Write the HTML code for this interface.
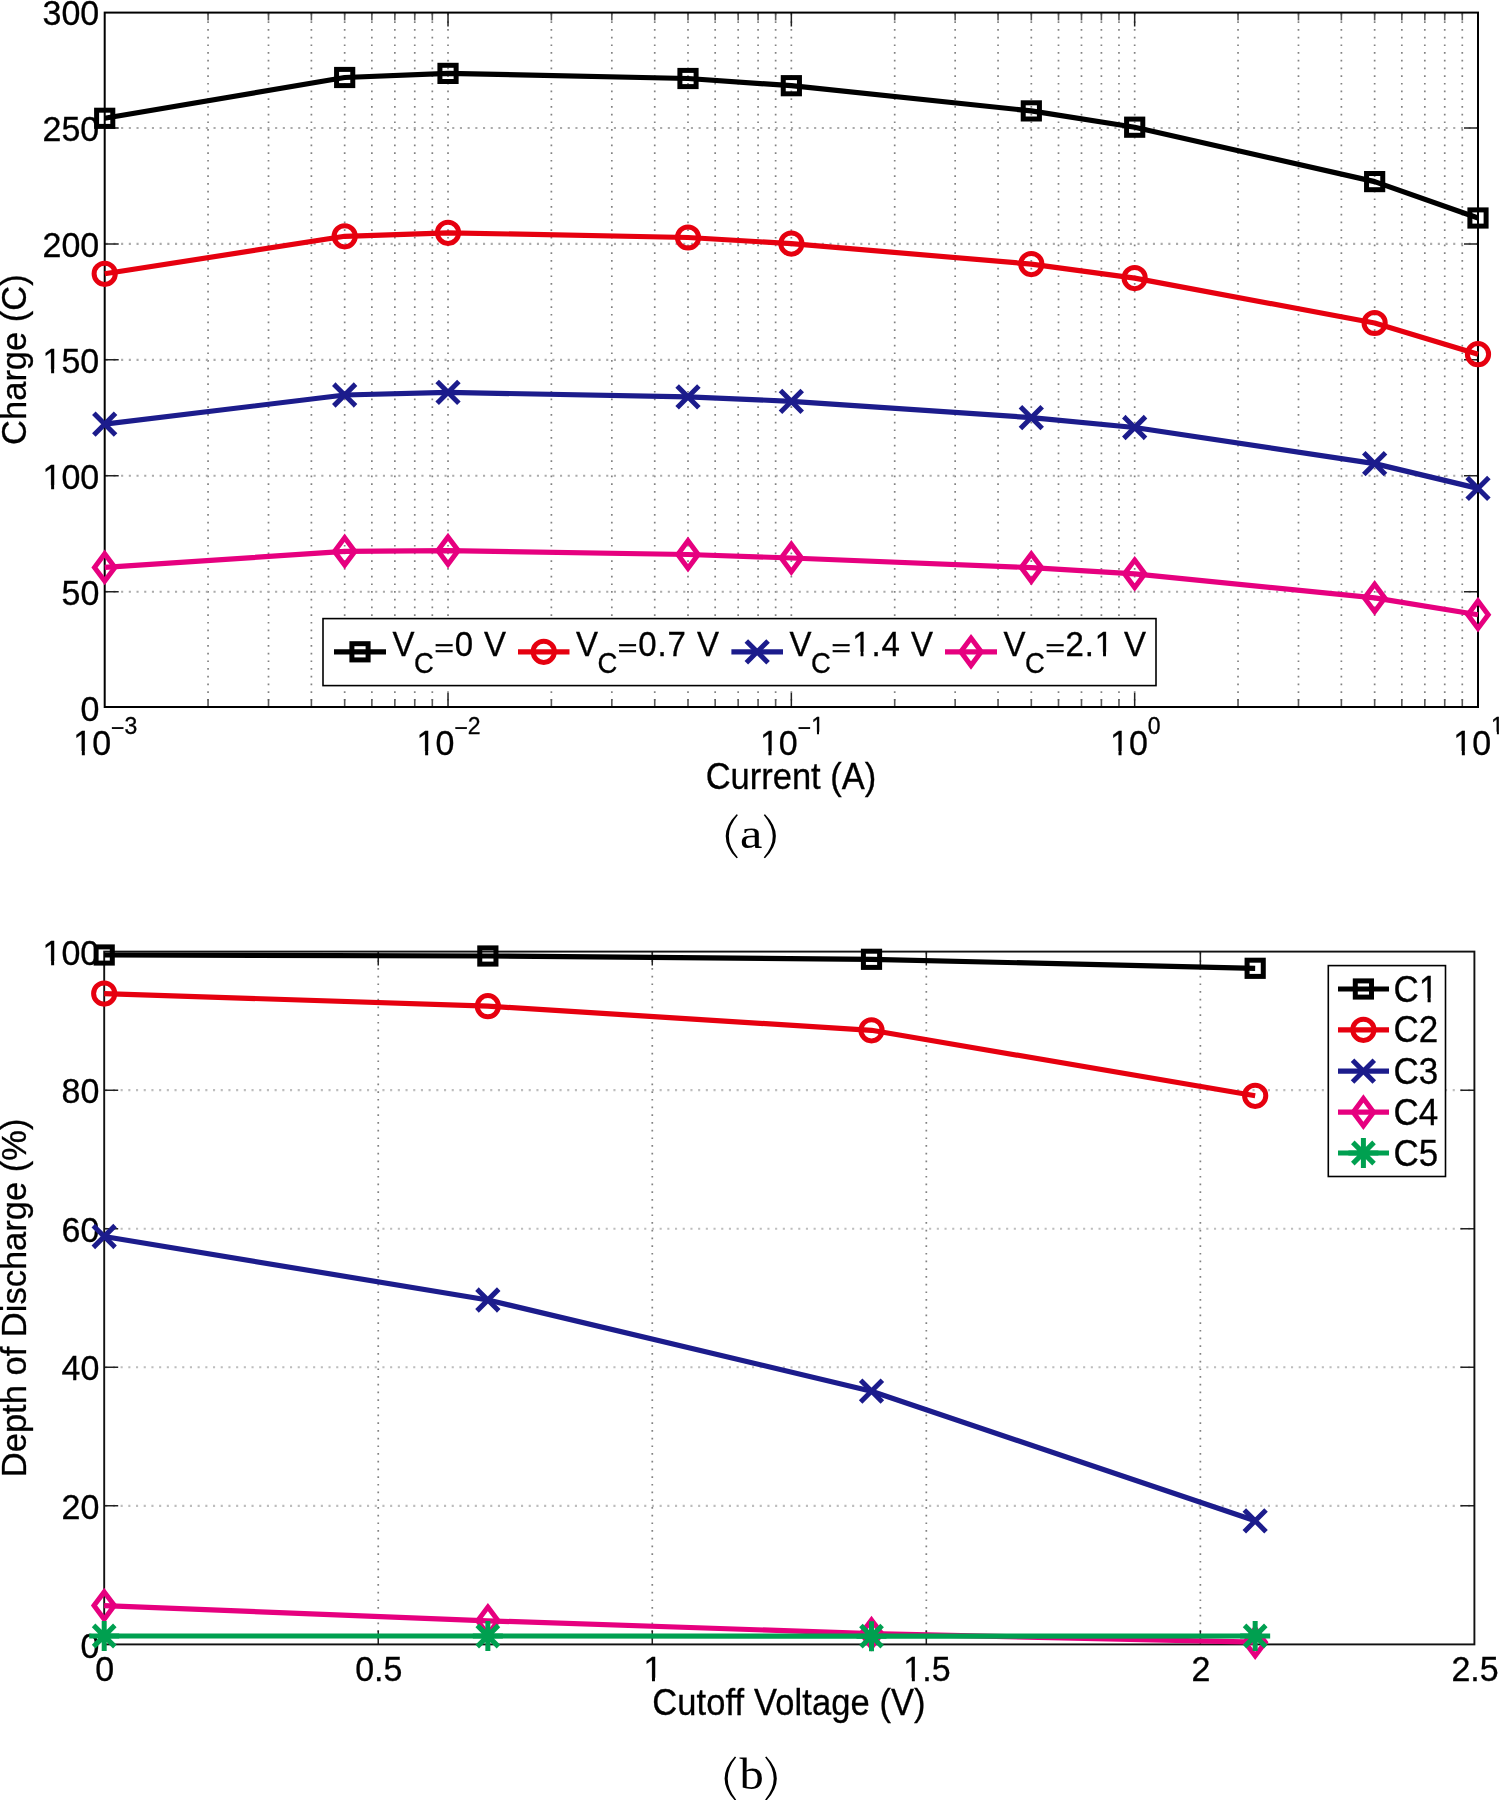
<!DOCTYPE html><html><head><meta charset="utf-8"><style>
html,body{margin:0;padding:0;background:#fff;overflow:hidden;width:1500px;height:1800px;}svg{display:block;will-change:transform;}
.g{stroke:#828282;stroke-width:1.7;stroke-dasharray:1.7 6.0;fill:none;}
.gh{stroke:#ababab;stroke-width:2.1;stroke-dasharray:2.1 5.6;fill:none;}
.gl{stroke:#bdbdbd;stroke-width:2.1;stroke-dasharray:2.1 5.6;fill:none;}
.t{stroke:#222;stroke-width:1.5;fill:none;}
.tm{stroke:#5a5a5a;stroke-width:1.6;fill:none;}
text{font-family:"Liberation Sans",sans-serif;fill:#000;stroke:#000;stroke-width:0.3px;}
.s{font-family:"Liberation Serif",serif;stroke-width:0;}
</style></head><body>
<svg width="1500" height="1800" viewBox="0 0 1500 1800">
<rect width="1500" height="1800" fill="#fff"/>
<g><line x1="208.05" y1="13.6" x2="208.05" y2="706" class="g"/><line x1="268.51" y1="13.6" x2="268.51" y2="706" class="g"/><line x1="311.4" y1="13.6" x2="311.4" y2="706" class="g"/><line x1="344.67" y1="13.6" x2="344.67" y2="706" class="g"/><line x1="371.86" y1="13.6" x2="371.86" y2="706" class="g"/><line x1="394.84" y1="13.6" x2="394.84" y2="706" class="g"/><line x1="414.75" y1="13.6" x2="414.75" y2="706" class="g"/><line x1="432.32" y1="13.6" x2="432.32" y2="706" class="g"/><line x1="448.02" y1="13.6" x2="448.02" y2="706" class="g"/><line x1="551.38" y1="13.6" x2="551.38" y2="706" class="g"/><line x1="611.83" y1="13.6" x2="611.83" y2="706" class="g"/><line x1="654.73" y1="13.6" x2="654.73" y2="706" class="g"/><line x1="688" y1="13.6" x2="688" y2="706" class="g"/><line x1="715.18" y1="13.6" x2="715.18" y2="706" class="g"/><line x1="738.17" y1="13.6" x2="738.17" y2="706" class="g"/><line x1="758.08" y1="13.6" x2="758.08" y2="706" class="g"/><line x1="775.64" y1="13.6" x2="775.64" y2="706" class="g"/><line x1="791.35" y1="13.6" x2="791.35" y2="706" class="g"/><line x1="894.7" y1="13.6" x2="894.7" y2="706" class="g"/><line x1="955.16" y1="13.6" x2="955.16" y2="706" class="g"/><line x1="998.05" y1="13.6" x2="998.05" y2="706" class="g"/><line x1="1031.32" y1="13.6" x2="1031.32" y2="706" class="g"/><line x1="1058.51" y1="13.6" x2="1058.51" y2="706" class="g"/><line x1="1081.49" y1="13.6" x2="1081.49" y2="706" class="g"/><line x1="1101.4" y1="13.6" x2="1101.4" y2="706" class="g"/><line x1="1118.97" y1="13.6" x2="1118.97" y2="706" class="g"/><line x1="1134.67" y1="13.6" x2="1134.67" y2="706" class="g"/><line x1="1238.03" y1="13.6" x2="1238.03" y2="706" class="g"/><line x1="1298.48" y1="13.6" x2="1298.48" y2="706" class="g"/><line x1="1341.38" y1="13.6" x2="1341.38" y2="706" class="g"/><line x1="1374.65" y1="13.6" x2="1374.65" y2="706" class="g"/><line x1="1401.83" y1="13.6" x2="1401.83" y2="706" class="g"/><line x1="1424.82" y1="13.6" x2="1424.82" y2="706" class="g"/><line x1="1444.73" y1="13.6" x2="1444.73" y2="706" class="g"/><line x1="1462.29" y1="13.6" x2="1462.29" y2="706" class="g"/><line x1="105.7" y1="591.75" x2="1477" y2="591.75" class="gh"/><line x1="105.7" y1="475.8" x2="1477" y2="475.8" class="gh"/><line x1="105.7" y1="359.85" x2="1477" y2="359.85" class="gh"/><line x1="105.7" y1="243.9" x2="1477" y2="243.9" class="gh"/><line x1="105.7" y1="127.95" x2="1477" y2="127.95" class="gh"/></g>
<path class="t" d="M104.7 591.75h14M1478 591.75h-14M104.7 475.8h14M1478 475.8h-14M104.7 359.85h14M1478 359.85h-14M104.7 243.9h14M1478 243.9h-14M104.7 127.95h14M1478 127.95h-14M448.02 707v-14M448.02 12.6v14M791.35 707v-14M791.35 12.6v14M1134.67 707v-14M1134.67 12.6v14"/>
<path class="tm" d="M208.05 707v-8M208.05 12.6v8M268.51 707v-8M268.51 12.6v8M311.4 707v-8M311.4 12.6v8M344.67 707v-8M344.67 12.6v8M371.86 707v-8M371.86 12.6v8M394.84 707v-8M394.84 12.6v8M414.75 707v-8M414.75 12.6v8M432.32 707v-8M432.32 12.6v8M551.38 707v-8M551.38 12.6v8M611.83 707v-8M611.83 12.6v8M654.73 707v-8M654.73 12.6v8M688 707v-8M688 12.6v8M715.18 707v-8M715.18 12.6v8M738.17 707v-8M738.17 12.6v8M758.08 707v-8M758.08 12.6v8M775.64 707v-8M775.64 12.6v8M894.7 707v-8M894.7 12.6v8M955.16 707v-8M955.16 12.6v8M998.05 707v-8M998.05 12.6v8M1031.32 707v-8M1031.32 12.6v8M1058.51 707v-8M1058.51 12.6v8M1081.49 707v-8M1081.49 12.6v8M1101.4 707v-8M1101.4 12.6v8M1118.97 707v-8M1118.97 12.6v8M1238.03 707v-8M1238.03 12.6v8M1298.48 707v-8M1298.48 12.6v8M1341.38 707v-8M1341.38 12.6v8M1374.65 707v-8M1374.65 12.6v8M1401.83 707v-8M1401.83 12.6v8M1424.82 707v-8M1424.82 12.6v8M1444.73 707v-8M1444.73 12.6v8M1462.29 707v-8M1462.29 12.6v8"/>
<rect x="104.7" y="12.6" width="1373.3" height="694.4" fill="none" stroke="#000" stroke-width="2"/>
<g transform="translate(99.3 720.9) scale(1 1.04)"><text x="-18.91" font-size="34">0</text></g>
<g transform="translate(99.3 604.95) scale(1 1.04)"><text x="-37.82" font-size="34">50</text></g>
<g transform="translate(99.3 489) scale(1 1.04)"><text x="-56.73" font-size="34">100</text><path fill="#fff" d="M-55.81 -3.57H-48.18V2.2H-55.81ZM-45.17 -3.57H-37.8V2.2H-45.17Z"/></g>
<g transform="translate(99.3 373.05) scale(1 1.04)"><text x="-56.73" font-size="34">150</text><path fill="#fff" d="M-55.81 -3.57H-48.18V2.2H-55.81ZM-45.17 -3.57H-37.8V2.2H-45.17Z"/></g>
<g transform="translate(99.3 257.1) scale(1 1.04)"><text x="-56.73" font-size="34">200</text></g>
<g transform="translate(99.3 141.15) scale(1 1.04)"><text x="-56.73" font-size="34">250</text></g>
<g transform="translate(99.3 25.2) scale(1 1.04)"><text x="-56.73" font-size="34">300</text></g>
<g transform="translate(105.3 754.6) scale(1 1.04)"><text x="-32.02" font-size="34">10<tspan font-size="23" dy="-17.55">−</tspan><tspan font-size="23" dy="-2.05">3</tspan></text><path fill="#fff" d="M-31.11 -3.57H-23.47V2.2H-31.11ZM-20.47 -3.57H-13.09V2.2H-20.47Z"/></g>
<g transform="translate(448.62 754.6) scale(1 1.04)"><text x="-32.02" font-size="34">10<tspan font-size="23" dy="-17.55">−</tspan><tspan font-size="23" dy="-2.05">2</tspan></text><path fill="#fff" d="M-31.11 -3.57H-23.47V2.2H-31.11ZM-20.47 -3.57H-13.09V2.2H-20.47Z"/></g>
<g transform="translate(791.95 754.6) scale(1 1.04)"><text x="-32.02" font-size="34">10<tspan font-size="23" dy="-17.55">−</tspan><tspan font-size="23" dy="-2.05">1</tspan></text><path fill="#fff" d="M-31.11 -3.57H-23.47V2.2H-31.11ZM-20.47 -3.57H-13.09V2.2H-20.47ZM19.85 -22.01H25.01V-17.4H19.85ZM27.05 -22.01H32.03V-17.4H27.05Z"/></g>
<g transform="translate(1135.27 754.6) scale(1 1.04)"><text x="-25.3" font-size="34">10<tspan font-size="23" dy="-19.6">0</tspan></text><path fill="#fff" d="M-24.39 -3.57H-16.76V2.2H-24.39ZM-13.75 -3.57H-6.38V2.2H-13.75Z"/></g>
<g transform="translate(1478.6 754.6) scale(1 1.04)"><text x="-25.3" font-size="34">10<tspan font-size="23" dy="-19.6">1</tspan></text><path fill="#fff" d="M-24.39 -3.57H-16.76V2.2H-24.39ZM-13.75 -3.57H-6.38V2.2H-13.75ZM13.13 -22.01H18.3V-17.4H13.13ZM20.33 -22.01H25.32V-17.4H20.33Z"/></g>
<g transform="translate(791 788.9) scale(1 1.07)"><text x="-85.31" font-size="34.5">Current (A)</text></g>
<g transform="translate(25.9 359.6) rotate(-90)"><text x="-85.32" font-size="34.5">Charge (C)</text></g>
<path d="M736.6 814.2Q714.8 836.25 736.6 858.3L737.9 857.5Q719.7 836.25 737.9 815Z" fill="#000"/>
<path d="M765 814.2Q786.8 836.25 765 858.3L763.7 857.5Q781.9 836.25 763.7 815Z" fill="#000"/>
<text class="s" transform="translate(740 847.6) scale(1.2 1)" font-size="42">a</text>
<polyline points="104.7,118.3 344.67,77.5 448.02,73.4 688,78.5 791.35,85.7 1031.32,110.9 1134.67,127.2 1374.65,181.6 1478,218" fill="none" stroke="#000000" stroke-width="5.2" stroke-linejoin="round" stroke-linecap="butt"/>
<rect x="96.6" y="110.2" width="16.2" height="16.2" fill="none" stroke="#000000" stroke-width="5.0"/><rect x="336.57" y="69.4" width="16.2" height="16.2" fill="none" stroke="#000000" stroke-width="5.0"/><rect x="439.92" y="65.3" width="16.2" height="16.2" fill="none" stroke="#000000" stroke-width="5.0"/><rect x="679.9" y="70.4" width="16.2" height="16.2" fill="none" stroke="#000000" stroke-width="5.0"/><rect x="783.25" y="77.6" width="16.2" height="16.2" fill="none" stroke="#000000" stroke-width="5.0"/><rect x="1023.22" y="102.8" width="16.2" height="16.2" fill="none" stroke="#000000" stroke-width="5.0"/><rect x="1126.58" y="119.1" width="16.2" height="16.2" fill="none" stroke="#000000" stroke-width="5.0"/><rect x="1366.55" y="173.5" width="16.2" height="16.2" fill="none" stroke="#000000" stroke-width="5.0"/><rect x="1469.9" y="209.9" width="16.2" height="16.2" fill="none" stroke="#000000" stroke-width="5.0"/>
<polyline points="104.7,273.8 344.67,236.3 448.02,232.8 688,237.5 791.35,243.6 1031.32,264.1 1134.67,278.1 1374.65,323 1478,354.2" fill="none" stroke="#e6000f" stroke-width="5.2" stroke-linejoin="round" stroke-linecap="butt"/>
<circle cx="104.7" cy="273.8" r="10.6" fill="none" stroke="#e6000f" stroke-width="5.0"/><circle cx="344.67" cy="236.3" r="10.6" fill="none" stroke="#e6000f" stroke-width="5.0"/><circle cx="448.02" cy="232.8" r="10.6" fill="none" stroke="#e6000f" stroke-width="5.0"/><circle cx="688" cy="237.5" r="10.6" fill="none" stroke="#e6000f" stroke-width="5.0"/><circle cx="791.35" cy="243.6" r="10.6" fill="none" stroke="#e6000f" stroke-width="5.0"/><circle cx="1031.32" cy="264.1" r="10.6" fill="none" stroke="#e6000f" stroke-width="5.0"/><circle cx="1134.67" cy="278.1" r="10.6" fill="none" stroke="#e6000f" stroke-width="5.0"/><circle cx="1374.65" cy="323" r="10.6" fill="none" stroke="#e6000f" stroke-width="5.0"/><circle cx="1478" cy="354.2" r="10.6" fill="none" stroke="#e6000f" stroke-width="5.0"/>
<polyline points="104.7,424.1 344.67,395 448.02,392.4 688,396.8 791.35,401.3 1031.32,417.6 1134.67,427.5 1374.65,463.6 1478,488.4" fill="none" stroke="#1c1c8c" stroke-width="5.2" stroke-linejoin="round" stroke-linecap="butt"/>
<path d="M95.6 415L113.8 433.2M95.6 433.2L113.8 415" stroke="#1c1c8c" stroke-width="5.0" stroke-linecap="square" fill="none"/><path d="M335.57 385.9L353.77 404.1M335.57 404.1L353.77 385.9" stroke="#1c1c8c" stroke-width="5.0" stroke-linecap="square" fill="none"/><path d="M438.92 383.3L457.12 401.5M438.92 401.5L457.12 383.3" stroke="#1c1c8c" stroke-width="5.0" stroke-linecap="square" fill="none"/><path d="M678.9 387.7L697.1 405.9M678.9 405.9L697.1 387.7" stroke="#1c1c8c" stroke-width="5.0" stroke-linecap="square" fill="none"/><path d="M782.25 392.2L800.45 410.4M782.25 410.4L800.45 392.2" stroke="#1c1c8c" stroke-width="5.0" stroke-linecap="square" fill="none"/><path d="M1022.22 408.5L1040.42 426.7M1022.22 426.7L1040.42 408.5" stroke="#1c1c8c" stroke-width="5.0" stroke-linecap="square" fill="none"/><path d="M1125.58 418.4L1143.77 436.6M1125.58 436.6L1143.77 418.4" stroke="#1c1c8c" stroke-width="5.0" stroke-linecap="square" fill="none"/><path d="M1365.55 454.5L1383.75 472.7M1365.55 472.7L1383.75 454.5" stroke="#1c1c8c" stroke-width="5.0" stroke-linecap="square" fill="none"/><path d="M1468.9 479.3L1487.1 497.5M1468.9 497.5L1487.1 479.3" stroke="#1c1c8c" stroke-width="5.0" stroke-linecap="square" fill="none"/>
<polyline points="104.7,567.4 344.67,551.4 448.02,550.6 688,554.5 791.35,558 1031.32,567.6 1134.67,573.8 1374.65,597.9 1478,614.7" fill="none" stroke="#e6007f" stroke-width="5.2" stroke-linejoin="round" stroke-linecap="butt"/>
<path d="M104.7 553.7L114.9 567.4L104.7 581.1L94.5 567.4Z" stroke="#e6007f" stroke-width="5.0" stroke-linejoin="miter" fill="none"/><path d="M344.67 537.7L354.87 551.4L344.67 565.1L334.47 551.4Z" stroke="#e6007f" stroke-width="5.0" stroke-linejoin="miter" fill="none"/><path d="M448.02 536.9L458.22 550.6L448.02 564.3L437.82 550.6Z" stroke="#e6007f" stroke-width="5.0" stroke-linejoin="miter" fill="none"/><path d="M688 540.8L698.2 554.5L688 568.2L677.8 554.5Z" stroke="#e6007f" stroke-width="5.0" stroke-linejoin="miter" fill="none"/><path d="M791.35 544.3L801.55 558L791.35 571.7L781.15 558Z" stroke="#e6007f" stroke-width="5.0" stroke-linejoin="miter" fill="none"/><path d="M1031.32 553.9L1041.52 567.6L1031.32 581.3L1021.12 567.6Z" stroke="#e6007f" stroke-width="5.0" stroke-linejoin="miter" fill="none"/><path d="M1134.67 560.1L1144.88 573.8L1134.67 587.5L1124.47 573.8Z" stroke="#e6007f" stroke-width="5.0" stroke-linejoin="miter" fill="none"/><path d="M1374.65 584.2L1384.85 597.9L1374.65 611.6L1364.45 597.9Z" stroke="#e6007f" stroke-width="5.0" stroke-linejoin="miter" fill="none"/><path d="M1478 601L1488.2 614.7L1478 628.4L1467.8 614.7Z" stroke="#e6007f" stroke-width="5.0" stroke-linejoin="miter" fill="none"/>
<rect x="323" y="618.6" width="833" height="67" fill="#fff" stroke="#000" stroke-width="1.6"/>
<line x1="334" y1="651.8" x2="386" y2="651.8" stroke="#000000" stroke-width="5.2"/>
<rect x="351.9" y="643.7" width="16.2" height="16.2" fill="none" stroke="#000000" stroke-width="5.0"/>
<g transform="translate(392.45 655.6) scale(1 1.08)"><text x="0" font-size="33">V</text></g>
<g transform="translate(414 673.4) scale(1 1.05)"><text x="0" font-size="27.5">C</text></g>
<g transform="translate(434.4 656.1) scale(1 0.73)"><text x="0" font-size="33" style="stroke-width:0.9px">=</text></g>
<g transform="translate(454.8 655.6) scale(1 1.08)"><text x="0" font-size="33" letter-spacing="0.9">0 V</text></g>
<line x1="518" y1="651.8" x2="569.5" y2="651.8" stroke="#e6000f" stroke-width="5.2"/>
<circle cx="543.75" cy="651.8" r="10.6" fill="none" stroke="#e6000f" stroke-width="5.0"/>
<g transform="translate(575.95 655.6) scale(1 1.08)"><text x="0" font-size="33">V</text></g>
<g transform="translate(597.5 673.4) scale(1 1.05)"><text x="0" font-size="27.5">C</text></g>
<g transform="translate(617.9 656.1) scale(1 0.73)"><text x="0" font-size="33" style="stroke-width:0.9px">=</text></g>
<g transform="translate(638.3 655.6) scale(1 1.08)"><text x="0" font-size="33" letter-spacing="0.9">0.7 V</text></g>
<line x1="731.4" y1="651.8" x2="783" y2="651.8" stroke="#1c1c8c" stroke-width="5.2"/>
<path d="M748.1 642.7L766.3 660.9M748.1 660.9L766.3 642.7" stroke="#1c1c8c" stroke-width="5.0" stroke-linecap="square" fill="none"/>
<g transform="translate(789.45 655.6) scale(1 1.08)"><text x="0" font-size="33">V</text></g>
<g transform="translate(811 673.4) scale(1 1.05)"><text x="0" font-size="27.5">C</text></g>
<g transform="translate(831.4 656.1) scale(1 0.73)"><text x="0" font-size="33" style="stroke-width:0.9px">=</text></g>
<g transform="translate(852.3 655.6) scale(1 1.08)"><text x="0" font-size="33" letter-spacing="0.9">1.4 V</text><path fill="#fff" d="M0.89 -3.46H8.3V2.2H0.89ZM11.21 -3.46H18.37V2.2H11.21Z"/></g>
<line x1="945" y1="651.8" x2="997" y2="651.8" stroke="#e6007f" stroke-width="5.2"/>
<path d="M971 638.1L981.2 651.8L971 665.5L960.8 651.8Z" stroke="#e6007f" stroke-width="5.0" stroke-linejoin="miter" fill="none"/>
<g transform="translate(1003.45 655.6) scale(1 1.08)"><text x="0" font-size="33">V</text></g>
<g transform="translate(1025 673.4) scale(1 1.05)"><text x="0" font-size="27.5">C</text></g>
<g transform="translate(1045.4 656.1) scale(1 0.73)"><text x="0" font-size="33" style="stroke-width:0.9px">=</text></g>
<g transform="translate(1065.44 655.6) scale(1 1.08)"><text x="0" font-size="33" letter-spacing="0.9">2.1 V</text><path fill="#fff" d="M30.21 -3.46H37.62V2.2H30.21ZM40.54 -3.46H47.69V2.2H40.54Z"/></g>
<g><line x1="378.24" y1="952.6" x2="378.24" y2="1643.4" class="g"/><line x1="652.28" y1="952.6" x2="652.28" y2="1643.4" class="g"/><line x1="926.32" y1="952.6" x2="926.32" y2="1643.4" class="g"/><line x1="1200.36" y1="952.6" x2="1200.36" y2="1643.4" class="g"/><line x1="105.2" y1="1505.84" x2="1473.4" y2="1505.84" class="gl"/><line x1="105.2" y1="1367.28" x2="1473.4" y2="1367.28" class="gl"/><line x1="105.2" y1="1228.72" x2="1473.4" y2="1228.72" class="gl"/><line x1="105.2" y1="1090.16" x2="1473.4" y2="1090.16" class="gl"/></g>
<path class="t" d="M104.2 1505.84h14M1474.4 1505.84h-14M104.2 1367.28h14M1474.4 1367.28h-14M104.2 1228.72h14M1474.4 1228.72h-14M104.2 1090.16h14M1474.4 1090.16h-14M378.24 1644.4v-14M378.24 951.6v14M652.28 1644.4v-14M652.28 951.6v14M926.32 1644.4v-14M926.32 951.6v14M1200.36 1644.4v-14M1200.36 951.6v14"/>
<rect x="104.2" y="951.6" width="1370.2" height="692.8" fill="none" stroke="#111" stroke-width="1.9"/>
<g transform="translate(99.3 1657.6) scale(1 1.04)"><text x="-18.91" font-size="34">0</text></g>
<g transform="translate(99.3 1519.04) scale(1 1.04)"><text x="-37.82" font-size="34">20</text></g>
<g transform="translate(99.3 1380.48) scale(1 1.04)"><text x="-37.82" font-size="34">40</text></g>
<g transform="translate(99.3 1241.92) scale(1 1.04)"><text x="-37.82" font-size="34">60</text></g>
<g transform="translate(99.3 1103.36) scale(1 1.04)"><text x="-37.82" font-size="34">80</text></g>
<g transform="translate(99.3 964.8) scale(1 1.04)"><text x="-56.73" font-size="34">100</text><path fill="#fff" d="M-55.81 -3.57H-48.18V2.2H-55.81ZM-45.17 -3.57H-37.8V2.2H-45.17Z"/></g>
<g transform="translate(104.8 1681.4) scale(1 1.04)"><text x="-9.45" font-size="34">0</text></g>
<g transform="translate(378.84 1681.4) scale(1 1.04)"><text x="-23.63" font-size="34">0.5</text></g>
<g transform="translate(652.88 1681.4) scale(1 1.04)"><text x="-9.45" font-size="34">1</text><path fill="#fff" d="M-8.54 -3.57H-0.9V2.2H-8.54ZM2.1 -3.57H9.47V2.2H2.1Z"/></g>
<g transform="translate(926.92 1681.4) scale(1 1.04)"><text x="-23.63" font-size="34">1.5</text><path fill="#fff" d="M-22.72 -3.57H-15.08V2.2H-22.72ZM-12.08 -3.57H-4.71V2.2H-12.08Z"/></g>
<g transform="translate(1200.96 1681.4) scale(1 1.04)"><text x="-9.45" font-size="34">2</text></g>
<g transform="translate(1475 1681.4) scale(1 1.04)"><text x="-23.63" font-size="34">2.5</text></g>
<g transform="translate(790.3 1714.9) scale(1 1.07)"><text x="-138.01" font-size="34.5" letter-spacing="0.1">Cutoff Voltage (V)</text></g>
<g transform="translate(25.9 1297.9) rotate(-90)"><text x="-179.28" font-size="34.5">Depth of Discharge (%)</text></g>
<path d="M734.9 1756.4Q714.3 1778.45 734.9 1800.5L736.2 1799.7Q719.2 1778.45 736.2 1757.2Z" fill="#000"/>
<path d="M766.4 1756.4Q787.2 1778.45 766.4 1800.5L765.1 1799.7Q782.3 1778.45 765.1 1757.2Z" fill="#000"/>
<text class="s" transform="translate(739.6 1788.8) scale(1.12 1)" font-size="43.3">b</text>
<polyline points="104.2,955 487.86,956 871.51,959.3 1255.17,968.3" fill="none" stroke="#000000" stroke-width="5.2" stroke-linejoin="round" stroke-linecap="butt"/>
<rect x="96.1" y="946.9" width="16.2" height="16.2" fill="none" stroke="#000000" stroke-width="5.0"/><rect x="479.76" y="947.9" width="16.2" height="16.2" fill="none" stroke="#000000" stroke-width="5.0"/><rect x="863.41" y="951.2" width="16.2" height="16.2" fill="none" stroke="#000000" stroke-width="5.0"/><rect x="1247.07" y="960.2" width="16.2" height="16.2" fill="none" stroke="#000000" stroke-width="5.0"/>
<polyline points="104.2,993.6 487.86,1006.2 871.51,1030.3 1255.17,1095.8" fill="none" stroke="#e6000f" stroke-width="5.2" stroke-linejoin="round" stroke-linecap="butt"/>
<circle cx="104.2" cy="993.6" r="10.6" fill="none" stroke="#e6000f" stroke-width="5.0"/><circle cx="487.86" cy="1006.2" r="10.6" fill="none" stroke="#e6000f" stroke-width="5.0"/><circle cx="871.51" cy="1030.3" r="10.6" fill="none" stroke="#e6000f" stroke-width="5.0"/><circle cx="1255.17" cy="1095.8" r="10.6" fill="none" stroke="#e6000f" stroke-width="5.0"/>
<polyline points="104.2,1236.5 487.86,1300 871.51,1391.2 1255.17,1520.8" fill="none" stroke="#1c1c8c" stroke-width="5.2" stroke-linejoin="round" stroke-linecap="butt"/>
<path d="M95.1 1227.4L113.3 1245.6M95.1 1245.6L113.3 1227.4" stroke="#1c1c8c" stroke-width="5.0" stroke-linecap="square" fill="none"/><path d="M478.76 1290.9L496.96 1309.1M478.76 1309.1L496.96 1290.9" stroke="#1c1c8c" stroke-width="5.0" stroke-linecap="square" fill="none"/><path d="M862.41 1382.1L880.61 1400.3M862.41 1400.3L880.61 1382.1" stroke="#1c1c8c" stroke-width="5.0" stroke-linecap="square" fill="none"/><path d="M1246.07 1511.7L1264.27 1529.9M1246.07 1529.9L1264.27 1511.7" stroke="#1c1c8c" stroke-width="5.0" stroke-linecap="square" fill="none"/>
<polyline points="104.2,1605.6 487.86,1620.8 871.51,1633.6 1255.17,1642.2" fill="none" stroke="#e6007f" stroke-width="5.2" stroke-linejoin="round" stroke-linecap="butt"/>
<path d="M104.2 1591.9L114.4 1605.6L104.2 1619.3L94 1605.6Z" stroke="#e6007f" stroke-width="5.0" stroke-linejoin="miter" fill="none"/><path d="M487.86 1607.1L498.06 1620.8L487.86 1634.5L477.66 1620.8Z" stroke="#e6007f" stroke-width="5.0" stroke-linejoin="miter" fill="none"/><path d="M871.51 1619.9L881.71 1633.6L871.51 1647.3L861.31 1633.6Z" stroke="#e6007f" stroke-width="5.0" stroke-linejoin="miter" fill="none"/><path d="M1255.17 1628.5L1265.37 1642.2L1255.17 1655.9L1244.97 1642.2Z" stroke="#e6007f" stroke-width="5.0" stroke-linejoin="miter" fill="none"/>
<polyline points="104.2,1636 487.86,1636 871.51,1636.2 1255.17,1636" fill="none" stroke="#00a050" stroke-width="5.2" stroke-linejoin="round" stroke-linecap="butt"/>
<path d="M104.2 1621V1651M89.2 1636H119.2M93.59 1625.39L114.81 1646.61M93.59 1646.61L114.81 1625.39" stroke="#00a050" stroke-width="5.0" stroke-linecap="butt" fill="none"/><path d="M487.86 1621V1651M472.86 1636H502.86M477.25 1625.39L498.46 1646.61M477.25 1646.61L498.46 1625.39" stroke="#00a050" stroke-width="5.0" stroke-linecap="butt" fill="none"/><path d="M871.51 1621.2V1651.2M856.51 1636.2H886.51M860.91 1625.59L882.12 1646.81M860.91 1646.81L882.12 1625.59" stroke="#00a050" stroke-width="5.0" stroke-linecap="butt" fill="none"/><path d="M1255.17 1621V1651M1240.17 1636H1270.17M1244.56 1625.39L1265.77 1646.61M1244.56 1646.61L1265.77 1625.39" stroke="#00a050" stroke-width="5.0" stroke-linecap="butt" fill="none"/>
<rect x="1328.3" y="965.6" width="117.2" height="210.9" fill="#fff" stroke="#000" stroke-width="1.6"/>
<line x1="1338" y1="989" x2="1389" y2="989" stroke="#000000" stroke-width="5.2"/>
<rect x="1355.3" y="980.9" width="16.2" height="16.2" fill="none" stroke="#000000" stroke-width="5.0"/>
<g transform="translate(1393.5 1001.5) scale(1 1.04)"><text x="0" font-size="35">C1</text><path fill="#fff" d="M26.22 -3.67H34.08V2.2H26.22ZM37.17 -3.67H44.76V2.2H37.17Z"/></g>
<line x1="1338" y1="1029.8" x2="1389" y2="1029.8" stroke="#e6000f" stroke-width="5.2"/>
<circle cx="1363.4" cy="1029.8" r="10.6" fill="none" stroke="#e6000f" stroke-width="5.0"/>
<g transform="translate(1393.5 1042.3) scale(1 1.04)"><text x="0" font-size="35">C2</text></g>
<line x1="1338" y1="1071.1" x2="1389" y2="1071.1" stroke="#1c1c8c" stroke-width="5.2"/>
<path d="M1354.3 1062L1372.5 1080.2M1354.3 1080.2L1372.5 1062" stroke="#1c1c8c" stroke-width="5.0" stroke-linecap="square" fill="none"/>
<g transform="translate(1393.5 1083.6) scale(1 1.04)"><text x="0" font-size="35">C3</text></g>
<line x1="1338" y1="1112.2" x2="1389" y2="1112.2" stroke="#e6007f" stroke-width="5.2"/>
<path d="M1363.4 1098.5L1373.6 1112.2L1363.4 1125.9L1353.2 1112.2Z" stroke="#e6007f" stroke-width="5.0" stroke-linejoin="miter" fill="none"/>
<g transform="translate(1393.5 1124.7) scale(1 1.04)"><text x="0" font-size="35">C4</text></g>
<line x1="1338" y1="1153" x2="1389" y2="1153" stroke="#00a050" stroke-width="5.2"/>
<path d="M1363.4 1138V1168M1348.4 1153H1378.4M1352.79 1142.39L1374.01 1163.61M1352.79 1163.61L1374.01 1142.39" stroke="#00a050" stroke-width="5.0" stroke-linecap="butt" fill="none"/>
<g transform="translate(1393.5 1165.5) scale(1 1.04)"><text x="0" font-size="35">C5</text></g>
</svg></body></html>
